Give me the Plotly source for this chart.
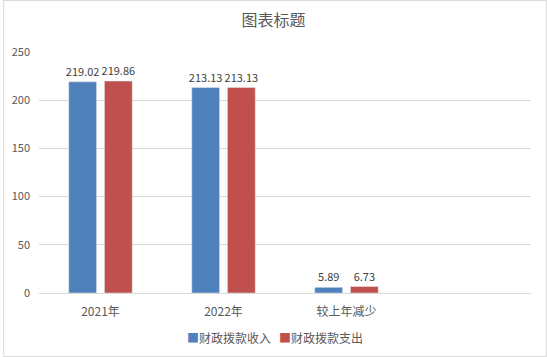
import plotly.graph_objects as go

categories = ["2021年", "2022年", "较上年减少"]
income = [219.02, 213.13, 5.89]
expense = [219.86, 213.13, 6.73]
series_names = ["财政拨款收入", "财政拨款支出"]
colors = ["#4F81BD", "#C0504D"]
y_ticks = [0, 50, 100, 150, 200, 250]

W, H = 547, 357
ml, mr, mt, mb = 36, 16, 52, 64
pw, ph = W - ml - mr, H - mt - mb

font = "Noto Sans CJK SC, Microsoft YaHei, sans-serif"
xs = list(range(len(categories)))

fig = go.Figure()
for name, vals, col in zip(series_names, [income, expense], colors):
    fig.add_trace(go.Bar(
        x=xs, y=vals, name=name, marker_color=col,
        text=[f"{v:.2f}" for v in vals], textposition="outside",
        textfont=dict(size=11, color="#404040", family=font),
        constraintext="none", cliponaxis=False, showlegend=False,
    ))

legend_text = "   ".join(
    f"<span style='color:{c}'>■</span>{n}" for n, c in zip(series_names, colors)
)

fig.update_layout(
    width=W, height=H,
    margin=dict(l=ml, r=mr, t=mt, b=mb),
    paper_bgcolor="white", plot_bgcolor="white",
    barmode="group", bargap=0.42, bargroupgap=0.22,
    title=dict(text="图表标题", x=0.5, xanchor="center", y=1 - 20 / H, yanchor="middle",
               font=dict(size=16, color="#595959", family=font)),
    font=dict(family=font, size=11, color="#595959"),
    xaxis=dict(range=[-0.5, 3.5], tickvals=xs, ticktext=categories, showgrid=False,
               showline=True, linecolor="#D9D9D9", linewidth=1, ticks="",
               ticklabelstandoff=8,
               tickfont=dict(size=12, color="#595959"), zeroline=False, fixedrange=True),
    yaxis=dict(range=[0, 250], tickvals=y_ticks, showgrid=True, gridcolor="#D9D9D9",
               gridwidth=1, zeroline=False, showline=False, ticks="",
               ticklabelstandoff=8,
               tickfont=dict(size=11, color="#595959"), fixedrange=True),
    annotations=[dict(text=legend_text, xref="paper", yref="paper",
                      x=(273 - ml) / pw, y=-(337 - mt - ph) / ph,
                      xanchor="center", yanchor="middle", showarrow=False,
                      font=dict(size=12, color="#595959", family=font))],
    shapes=[dict(type="rect", xref="paper", yref="paper",
                 x0=-(ml - 0.5) / pw, x1=1 + (mr - 0.5) / pw,
                 y0=-(mb - 0.5) / ph, y1=1 + (mt - 0.5) / ph,
                 line=dict(color="#D9D9D9", width=1), layer="below")],
)

fig.write_html("out.html")
